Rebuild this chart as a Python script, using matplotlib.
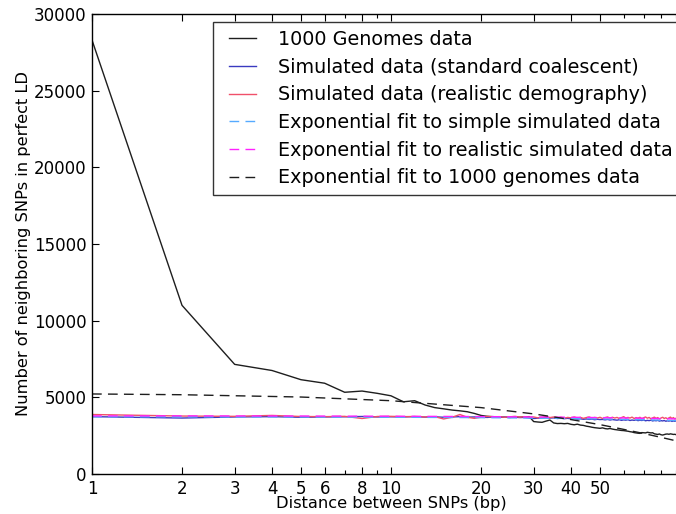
import matplotlib
matplotlib.use("Agg")
import matplotlib.pyplot as plt
from matplotlib.legend_handler import HandlerLine2D
import numpy as np

# Distance between SNPs (bp)
distance = list(range(1, 101))

# 1000 Genomes data (number of neighboring SNPs in perfect LD)
genomes_1000 = [
    28300, 11000, 7150, 6750, 6150, 5920, 5330, 5410, 5260, 5100,
    4710, 4780, 4500, 4330, 4250, 4170, 4120, 4060, 3950, 3820,
    3760, 3740, 3710, 3700, 3690, 3720, 3700, 3730, 3740, 3420,
    3390, 3370, 3450, 3520, 3330, 3290, 3300, 3280, 3300, 3240,
    3210, 3250, 3190, 3170, 3120, 3090, 3050, 3020, 3000, 2980,
    3010, 2960, 2940, 2970, 2930, 2900, 2880, 2860, 2840, 2830,
    2810, 2790, 2760, 2740, 2700, 2680, 2660, 2650, 2700, 2690,
    2680, 2720, 2700, 2680, 2690, 2620, 2600, 2580, 2610, 2560,
    2540, 2570, 2600, 2610, 2590, 2620, 2600, 2580, 2590, 2560,
    2540, 2570, 2550, 2530, 2560, 2540, 2520, 2550, 2530, 2510,
]

# Simulated data (standard coalescent)
sim_standard = [
    3740, 3650, 3720, 3740, 3700, 3720, 3730, 3750, 3720, 3730,
    3720, 3740, 3710, 3730, 3700, 3720, 3740, 3710, 3720, 3700,
    3690, 3720, 3700, 3710, 3690, 3700, 3680, 3690, 3660, 3620,
    3640, 3660, 3680, 3650, 3660, 3620, 3640, 3610, 3630, 3600,
    3620, 3580, 3600, 3570, 3590, 3560, 3580, 3540, 3570, 3550,
    3560, 3530, 3560, 3520, 3550, 3530, 3510, 3540, 3500, 3530,
    3510, 3540, 3490, 3520, 3500, 3530, 3480, 3510, 3490, 3520,
    3470, 3500, 3480, 3510, 3460, 3490, 3470, 3500, 3450, 3480,
    3460, 3490, 3440, 3470, 3450, 3480, 3430, 3460, 3440, 3470,
    3430, 3450, 3420, 3460, 3430, 3450, 3410, 3440, 3420, 3430,
]

# Simulated data (realistic demography)
sim_realistic = [
    3880, 3780, 3760, 3820, 3750, 3740, 3760, 3620, 3750, 3760,
    3740, 3750, 3720, 3740, 3590, 3700, 3880, 3700, 3630, 3700,
    3760, 3720, 3740, 3700, 3730, 3760, 3710, 3740, 3690, 3720,
    3660, 3700, 3750, 3680, 3720, 3660, 3700, 3640, 3690, 3660,
    3720, 3650, 3690, 3630, 3680, 3720, 3640, 3690, 3650, 3700,
    3620, 3680, 3720, 3640, 3700, 3650, 3690, 3620, 3680, 3740,
    3640, 3690, 3650, 3710, 3620, 3680, 3640, 3700, 3610, 3670,
    3720, 3640, 3690, 3600, 3660, 3710, 3630, 3680, 3590, 3650,
    3700, 3620, 3670, 3600, 3660, 3710, 3620, 3680, 3590, 3650,
    3690, 3610, 3660, 3600, 3650, 3690, 3600, 3660, 3590, 3640,
]

# Exponential fits (read at sample distances)
fit_x = [1, 2, 5, 10, 20, 30, 40, 50, 60, 70, 80, 90, 100]
fit_simple = [3730, 3727, 3718, 3704, 3676, 3648, 3620, 3592, 3565, 3538, 3511, 3485, 3459]
fit_realistic = [3790, 3788, 3780, 3768, 3745, 3722, 3700, 3678, 3656, 3634, 3612, 3591, 3570]
fit_1000g = [5220, 5170, 5020, 4780, 4330, 3920, 3550, 3220, 2910, 2640, 2390, 2160, 1960]

xticks = [1, 2, 3, 4, 5, 6, 8, 10, 20, 30, 40, 50]
minor_xticks = [7, 9, 60, 70, 80, 90]
yticks = [0, 5000, 10000, 15000, 20000, 25000, 30000]

plt.rcParams['font.family'] = 'DejaVu Sans'

W, H = 676, 514
fig = plt.figure(figsize=(W / 100, H / 100), dpi=100, facecolor='white')
ax = fig.add_axes([92 / W, 40 / H, (690 - 92) / W, 460 / H])

dash = (0, (7, 4.5))
ax.plot(distance, genomes_1000, color='#1e1e1e', lw=1.0, label='1000 Genomes data')
ax.plot(distance, sim_standard, color='#3a3ac0', lw=1.0, label='Simulated data (standard coalescent)')
ax.plot(distance, sim_realistic, color='#f0506a', lw=1.0, label='Simulated data (realistic demography)')
ax.plot(fit_x, fit_simple, color='#55aaff', lw=1.0, ls=dash, label='Exponential fit to simple simulated data')
ax.plot(fit_x, fit_realistic, color='#ff22ff', lw=1.0, ls=dash, label='Exponential fit to realistic simulated data')
ax.plot(fit_x, fit_1000g, color='#1e1e1e', lw=1.0, ls=dash, label='Exponential fit to 1000 genomes data')

ax.set_xscale('log')
ax.set_xlim(1, 100)
ax.set_ylim(0, 30000)
ax.set_xticks(xticks)
ax.set_xticklabels([str(t) for t in xticks])
ax.set_xticks(minor_xticks, minor=True)
ax.set_xticklabels([], minor=True)
ax.set_yticks(yticks)
ax.set_yticklabels([str(t) for t in yticks])

ax.tick_params(which='both', direction='in', top=True, right=True, labelsize=12)
ax.tick_params(axis='y', pad=4)
ax.tick_params(axis='x', pad=4)
ax.tick_params(which='major', length=5, width=0.8)
ax.tick_params(which='minor', length=3, width=0.8)
for s in ax.spines.values():
    s.set_linewidth(1.0)

ax.set_xlabel('Distance between SNPs (bp)', fontsize=11.7, labelpad=-1)
ax.set_ylabel('Number of neighboring SNPs in perfect LD', fontsize=11.7, labelpad=2)

handles, labels = ax.get_legend_handles_labels()
hmap = {h: HandlerLine2D(marker_pad=0.42, numpoints=2) for h in handles}
leg = ax.legend(handles, labels, loc='upper left',
                bbox_to_anchor=(213 / W, 1 - 22.5 / H), bbox_transform=fig.transFigure,
                fontsize=13.8, frameon=True, fancybox=False,
                handlelength=2.27, handletextpad=0.72, borderpad=0.4,
                labelspacing=0.45, borderaxespad=0.0, handler_map=hmap)
leg.get_frame().set_edgecolor('black')
leg.get_frame().set_linewidth(1.0)

fig.savefig('out.png', dpi=100, facecolor='white')
